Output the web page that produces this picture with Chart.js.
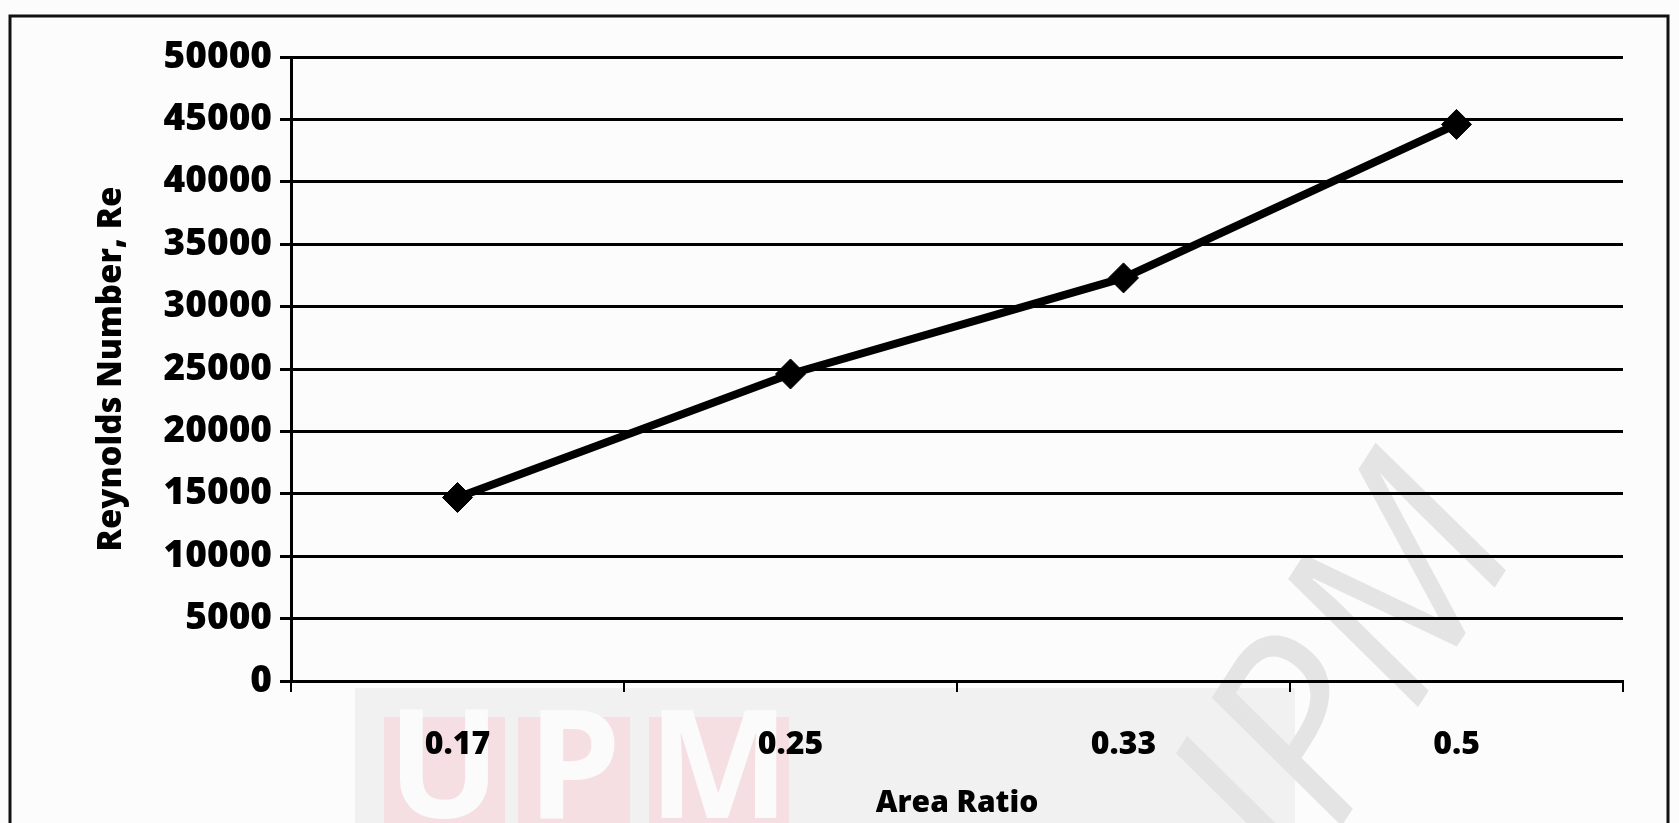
<!DOCTYPE html>
<html>
<head>
<meta charset="utf-8">
<script src="https://cdn.jsdelivr.net/npm/chart.js@4/dist/chart.umd.min.js"></script>
<style>
    html, body { margin: 0; padding: 0; background: #fcfcfc; }
    #wrap { position: relative; width: 1679px; height: 823px; }
</style>
</head>
<body>
<div id="wrap"><canvas id="reChart"></canvas></div>
<script>
// data
const areaRatios = ['0.17', '0.25', '0.33', '0.5'];
const reynoldsValues = [14700, 24600, 32300, 44600];
const yTicks = [0, 5000, 10000, 15000, 20000, 25000, 30000, 35000, 40000, 45000, 50000];

const FONT = "'Open Sans', Lato, sans-serif";

// frame + faint watermark behind the chart
const backdrop = {
    id: 'backdrop',
    beforeDraw(chart) {
        const ctx = chart.ctx;
        ctx.save();
        ctx.fillStyle = '#fcfcfc';
        ctx.fillRect(0, 0, chart.width, chart.height);

        // grey band + pink logo blocks at the bottom
        ctx.fillStyle = '#f1f1f1';
        ctx.fillRect(355, 688, 940, 140);
        ctx.fillStyle = '#f6dfe2';
        [[384, 121], [518, 112], [649, 140]].forEach(([x, w]) => ctx.fillRect(x, 717, w, 110));
        ctx.fillStyle = '#fbfbfb';
        ctx.font = "bold 150px " + FONT;
        ctx.textAlign = 'center';
        ctx.textBaseline = 'top';
        ctx.fillText('U', 444, 700);
        ctx.fillText('P', 574, 700);
        ctx.fillText('M', 719, 700);

        // diagonal grey watermark
        ctx.translate(1325, 720);
        ctx.rotate(-1.0);
        ctx.fillStyle = '#e4e4e4';
        ctx.font = "italic 250px " + FONT;
        ctx.textBaseline = 'middle';
        ctx.fillText('UPM', 0, 0);
        ctx.restore();

        // outer border
        ctx.save();
        ctx.strokeStyle = '#111';
        ctx.lineWidth = 3;
        ctx.strokeRect(10, 16, 1658, 840);
        ctx.restore();
    }
};

new Chart(document.getElementById('reChart'), {
    type: 'line',
    data: {
        labels: areaRatios,
        datasets: [{
            label: 'Reynolds Number, Re',
            data: reynoldsValues,
            borderColor: '#000',
            backgroundColor: '#000',
            borderWidth: 8,
            pointStyle: 'rectRot',
            pointRadius: 15,
            pointBorderWidth: 1,
            pointBackgroundColor: '#000',
            tension: 0
        }]
    },
    options: {
        responsive: true,
        maintainAspectRatio: false,
        animation: false,
        layout: { padding: { top: 57, right: 56, bottom: 0, left: 0 } },
        plugins: {
            legend: { display: false },
            tooltip: { enabled: false }
        },
        scales: {
            x: {
                offset: true,
                grid: { offset: true, drawOnChartArea: false, drawTicks: true, tickLength: 11, color: '#000', lineWidth: 2 },
                border: { display: true, color: '#000', width: 3 },
                ticks: { color: '#000', padding: 34, font: { family: FONT, size: 32, weight: '800' } },
                title: {
                    display: true,
                    text: 'Area Ratio',
                    color: '#000',
                    font: { family: FONT, size: 30, weight: '800' },
                    padding: { top: 0, bottom: 2 }
                },
                afterFit(scale) { scale.height = 142; }
            },
            y: {
                min: 0,
                max: 50000,
                afterBuildTicks(scale) { scale.ticks = yTicks.map(v => ({ value: v })); },
                grid: { color: '#000', lineWidth: 3, drawTicks: true, tickLength: 11 },
                border: { display: true, color: '#000', width: 3 },
                ticks: {
                    color: '#000',
                    padding: 8,
                    font: { family: FONT, size: 37, weight: '800' },
                    callback: v => String(v)
                },
                title: {
                    display: true,
                    text: 'Reynolds Number, Re',
                    color: '#000',
                    font: { family: FONT, size: 33, weight: '800' },
                    padding: { top: 92, bottom: 0 }
                },
                afterFit(scale) { scale.width = 291; }
            }
        }
    },
    plugins: [backdrop]
});
</script>
</body>
</html>
